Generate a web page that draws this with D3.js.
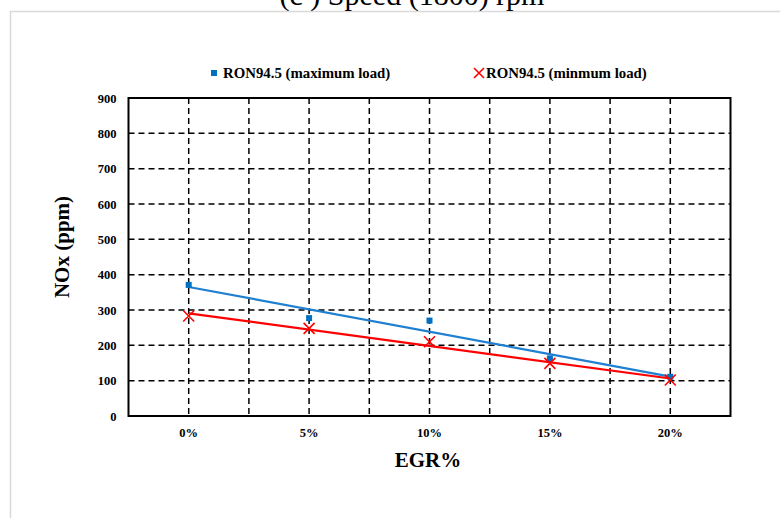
<!DOCTYPE html>
<html>
<head>
<meta charset="utf-8">
<script src="https://cdn.jsdelivr.net/npm/d3@7"></script>
<style>
  html, body { margin: 0; padding: 0; background: #fff; }
  svg { display: block; }
</style>
</head>
<body>
<svg id="chart" width="780" height="518"></svg>
<script>
// EGR rate categories and NOx emissions (ppm) at 1800 rpm
const egrLevels = ["0%", "5%", "10%", "15%", "20%"];
const noxMaxLoad = [371, 277, 270, 163, 111];
const noxMinLoad = [283, 248, 210, 149, 102];
const yTicks = [0, 100, 200, 300, 400, 500, 600, 700, 800, 900];
const seriesNames = ["RON94.5 (maximum load)", "RON94.5 (minmum load)"];

const blue = "#0070C0";
const trendBlue = "#1f7fd0";
const red = "#FF0000";
const serif = "'Liberation Serif', 'Times New Roman', serif";

const svg = d3.select("#chart");

// outer chart frame
svg.append("rect")
  .attr("x", 10.5).attr("y", 11.5)
  .attr("width", 800).attr("height", 540)
  .attr("fill", "#fff").attr("stroke", "#d9d9d9").attr("stroke-width", 1.5);

// title (sits above the frame)
svg.append("text")
  .attr("x", 412).attr("y", 5)
  .attr("text-anchor", "middle")
  .attr("font-family", serif).attr("font-size", 30)
  .text("(c ) Speed (1800) rpm");

const plot = { left: 128.5, right: 730.5, top: 98, bottom: 416 };

const x = d3.scaleBand().domain(egrLevels).range([plot.left, plot.right]);
const y = d3.scaleLinear().domain([0, 900]).range([plot.bottom, plot.top]);
const cx = d => x(d) + x.bandwidth() / 2;

const g = svg.append("g");

// horizontal dashed gridlines
g.selectAll(".hgrid").data(yTicks.filter(t => t > 0 && t < 900)).enter()
  .append("line")
  .attr("x1", plot.left).attr("x2", plot.right)
  .attr("y1", d => y(d)).attr("y2", d => y(d))
  .attr("stroke", "#000").attr("stroke-width", 1.5)
  .attr("stroke-dasharray", "6,4");

// vertical dashed gridlines at category centres and boundaries
const vPos = [];
egrLevels.forEach((c, i) => {
  vPos.push(cx(c));
  if (i > 0) vPos.push(x(c));
});
g.selectAll(".vgrid").data(vPos).enter()
  .append("line")
  .attr("x1", d => d).attr("x2", d => d)
  .attr("y1", plot.top).attr("y2", plot.bottom)
  .attr("stroke", "#000").attr("stroke-width", 1.5)
  .attr("stroke-dasharray", "6,4");

// plot border
g.append("rect")
  .attr("x", plot.left).attr("y", plot.top)
  .attr("width", plot.right - plot.left).attr("height", plot.bottom - plot.top)
  .attr("fill", "none").attr("stroke", "#000").attr("stroke-width", 2);

// y axis labels
const yAxis = d3.axisLeft(y).tickValues(yTicks).tickSize(0).tickPadding(12);
const ya = svg.append("g").attr("transform", `translate(${plot.left},0)`).call(yAxis);
ya.select(".domain").remove();
ya.selectAll("text")
  .attr("font-family", serif).attr("font-size", 12.5).attr("font-weight", "bold").attr("fill", "#000");

// x axis labels
const xAxis = d3.axisBottom(x).tickSize(0).tickPadding(12);
const xa = svg.append("g").attr("transform", `translate(0,${plot.bottom})`).call(xAxis);
xa.select(".domain").remove();
xa.selectAll("text")
  .attr("font-family", serif).attr("font-size", 12.5).attr("font-weight", "bold").attr("fill", "#000");

// axis titles
svg.append("text")
  .attr("x", 428).attr("y", 467)
  .attr("text-anchor", "middle")
  .attr("font-family", serif).attr("font-size", 21).attr("font-weight", "bold")
  .text("EGR%");
svg.append("text")
  .attr("transform", "translate(69,247) rotate(-90)")
  .attr("text-anchor", "middle")
  .attr("font-family", serif).attr("font-size", 21).attr("font-weight", "bold")
  .text("NOx (ppm)");

// least-squares trend line over category index
function linearFit(vals) {
  const n = vals.length;
  const xs = vals.map((_, i) => i);
  const mx = d3.mean(xs), my = d3.mean(vals);
  const sxy = d3.sum(xs, (xi, i) => (xi - mx) * (vals[i] - my));
  const sxx = d3.sum(xs, xi => (xi - mx) * (xi - mx));
  const slope = sxy / sxx;
  const icpt = my - slope * mx;
  return [0, n - 1].map(i => ({ i, v: icpt + slope * i }));
}
const trendLine = d3.line()
  .x(d => cx(egrLevels[d.i]))
  .y(d => y(d.v));

svg.append("path")
  .attr("d", trendLine(linearFit(noxMaxLoad)))
  .attr("fill", "none").attr("stroke", trendBlue).attr("stroke-width", 2.2);
svg.append("path")
  .attr("d", trendLine(linearFit(noxMinLoad)))
  .attr("fill", "none").attr("stroke", red).attr("stroke-width", 2.2);

// maximum load markers (squares)
svg.selectAll(".sq").data(noxMaxLoad).enter()
  .append("rect")
  .attr("x", (d, i) => cx(egrLevels[i]) - 3)
  .attr("y", d => y(d) - 3)
  .attr("width", 6).attr("height", 6)
  .attr("fill", blue);

// minimum load markers (crosses)
const cross = (px, py, s) => `M${px - s},${py - s}L${px + s},${py + s}M${px - s},${py + s}L${px + s},${py - s}`;
svg.selectAll(".cx").data(noxMinLoad).enter()
  .append("path")
  .attr("d", (d, i) => cross(cx(egrLevels[i]), y(d), 5.5))
  .attr("stroke", red).attr("stroke-width", 1.6).attr("fill", "none");

// legend
const legend = svg.append("g");
legend.append("rect")
  .attr("x", 211).attr("y", 70).attr("width", 6).attr("height", 6).attr("fill", blue);
legend.append("text")
  .attr("x", 223).attr("y", 78)
  .attr("font-family", serif).attr("font-size", 14.8).attr("font-weight", "bold")
  .text(seriesNames[0]);
legend.append("path")
  .attr("d", cross(479, 73, 5))
  .attr("stroke", red).attr("stroke-width", 1.6).attr("fill", "none");
legend.append("text")
  .attr("x", 486).attr("y", 78)
  .attr("font-family", serif).attr("font-size", 14.8).attr("font-weight", "bold")
  .text(seriesNames[1]);
</script>
</body>
</html>
